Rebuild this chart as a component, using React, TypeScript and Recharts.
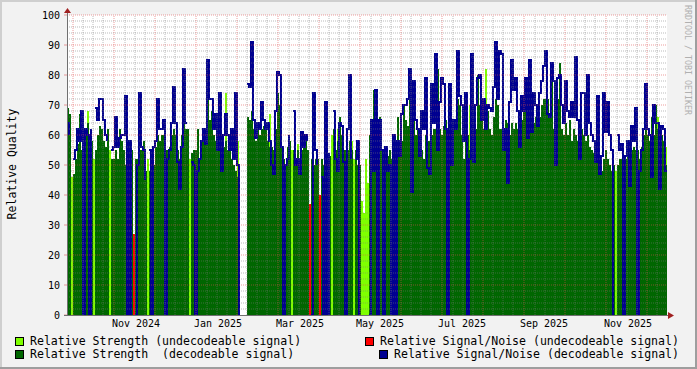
import React from 'react';
import { ComposedChart, Area, Line, XAxis, YAxis, ReferenceLine, CartesianGrid } from 'recharts';

// Relative Strength (decodeable signal), one value per time slot (null = no data)
const strength: (number | null)[] = [
  69, 67, 0, 47, 52, 57, 67, 55, 58, 60,
  64, 60, 58, 0, 55, 60, 63, 62, 58, 56,
  62, 0, 52, 52, 55, 52, 62, 58, 55, 50,
  55, 57, 55, 0, 52, 52, 55, 55, 58, 48,
  0, 48, 50, 50, 56, 60, 58, 60, 60, 55,
  55, 56, 60, 62, 60, 55, 52, 60, 72, 62,
  62, 0, 54, 55, 55, 62, 52, 58, 60, 58,
  74, 65, 68, 60, 58, 56, 60, 55, 56, 58,
  55, 55, 52, 50, 48, 46, 46, null, null, null,
  66, 65, 68, 62, 58, 62, 60, 62, 63, 62,
  58, 56, 56, 55, 62, 74, 70, 56, 52, 50,
  56, 58, 0, 55, 52, 55, 52, 55, 56, 60,
  55, 0, 52, 50, 52, 52, 0, 52, 50, 52,
  52, 53, 0, 62, 55, 58, 66, 60, 55, 55,
  55, 58, 55, 0, 55, 50, 50, 0, 0, 0,
  0, 60, 64, 75, 52, 52, 66, 55, 55, 53,
  53, 55, 52, 52, 55, 66, 55, 58, 70, 65,
  63, 80, 65, 76, 60, 62, 58, 55, 52, 60,
  58, 58, 60, 62, 62, 82, 62, 60, 63, 65,
  62, 62, 63, 63, 62, 72, 70, 60, 52, 62,
  60, 55, 60, 55, 62, 80, 70, 65, 62, 66,
  68, 62, 60, 66, 72, 70, 62, 62, 58, 65,
  64, 60, 64, 62, 64, 62, 60, 65, 70, 72,
  66, 68, 65, 64, 66, 64, 66, 70, 72, 72,
  72, 66, 80, 62, 60, 72, 84, 62, 60, 64,
  60, 65, 58, 62, 60, 58, 56, 62, 60, 58,
  60, 56, 55, 54, 52, 55, 52, 48, 52, 55,
  52, 50, 48, 50, 0, 50, 52, 52, 52, 52,
  55, 50, 55, 56, 55, 55, 52, 56, 60, 62,
  60, 58, 66, 60, 70, 62, 55, 60, 58, 50,
];

// Relative Signal/Noise (decodeable signal)
const snr: (number | null)[] = [
  64, 60, null, 52, 55, 62, 58, 68, 0, 62,
  60, 0, 62, null, 69, 65, 72, 72, 65, 60,
  58, null, 55, 56, 66, 56, 59, 60, 60, 73,
  0, 58, 0, null, 0, 50, 74, 56, 55, 45,
  null, 55, 0, 56, 58, 72, 62, 62, 65, 0,
  52, 55, 64, 76, 64, 51, 42, 56, 82, 64,
  64, null, 51, 50, 0, 48, 52, 58, 62, 57,
  85, 72, 72, 62, 67, 55, 74, 48, 60, 67,
  60, 55, 62, 52, 74, 50, 0, null, null, null,
  77, 76, 91, 65, 59, 64, 62, 71, 65, 62,
  64, 58, 50, 47, 68, 81, 80, 56, 0, 50,
  52, 60, null, 68, 50, 52, 47, 61, 56, 60,
  58, null, 0, 74, 55, 50, null, 46, 0, 71,
  0, 54, null, 68, 52, 48, 64, 63, 51, 0,
  62, 80, 52, null, 52, 58, 0, null, null, null,
  null, 0, 65, 48, 75, 0, 65, 55, 0, 56,
  48, 50, 0, 60, 0, 58, 53, 67, 70, 70,
  72, 82, 41, 78, 65, 62, 53, 68, 62, 79,
  49, 47, 77, 64, 87, 55, 71, 79, 77, 62,
  0, 77, 50, 65, 62, 88, 73, 70, 58, 74,
  0, 52, 87, 51, 70, 79, 80, 65, 72, 62,
  70, 69, 68, 76, 91, 72, 88, 87, 55, 62,
  44, 71, 85, 75, 79, 68, 56, 73, 68, 79,
  59, 85, 61, 74, 70, 63, 74, 78, 83, 88,
  67, 66, 84, 78, 50, 79, 80, 70, 64, 78,
  68, 66, 71, 66, 86, 65, 52, 74, 74, 60,
  80, 64, 60, 58, 51, 73, 47, 53, 74, 61,
  71, 60, 55, 0, null, 60, 55, 57, 0, 53,
  58, 43, 63, 58, 69, 0, 48, 55, 62, 77,
  62, 60, 46, 70, 64, 64, 42, 63, 62, 48,
];

// Relative Strength (undecodeable signal): [slot, value]
const strengthUndecodeable: [number, number][] = [
  [2, 46], [10, 68], [13, 52], [21, 55], [40, 52], [61, 52], [79, 74], [85, 58],
  [99, 64], [101, 67], [112, 55], [115, 57], [132, 60], [135, 62], [142, 58],
  [143, 52], [147, 38], [148, 34], [149, 52], [150, 44], [201, 70], [209, 82],
  [274, 48], [295, 66], [299, 56],
];

// Relative Signal/Noise (undecodeable signal): [slot, value]
const snrUndecodeable: [number, number][] = [[33, 27], [121, 37], [126, 40]];

const monthLabels = ['Nov 2024', 'Jan 2025', 'Mar 2025', 'May 2025', 'Jul 2025', 'Sep 2025', 'Nov 2025'];
const monthLabelSlots = [34.5, 75.5, 116.5, 156.5, 197.5, 238.5, 280.5];
const monthGridSlots = [3, 23.5, 44, 64.5, 85, 105.5, 126, 146.5, 167, 187.5, 208, 228.5, 249, 269.5, 290];
const yTicks = [0, 10, 20, 30, 40, 50, 60, 70, 80, 90, 100];

const N = strength.length;
const lgMap = new Map(strengthUndecodeable);
const redMap = new Map(snrUndecodeable);
const data = Array.from({ length: N + 1 }, (_, i) => {
  const k = Math.min(i, N - 1);
  return {
    i,
    strength: strength[k],
    snr: snr[k],
    strengthU: i < N ? lgMap.get(i) ?? 0 : 0,
    snrU: i < N ? redMap.get(i) ?? 0 : 0,
  };
});

const minorY: number[] = [];
for (let v = 2; v < 100; v += 2) if (v % 10 !== 0) minorY.push(v);
const majorY = [10, 20, 30, 40, 50, 60, 70, 80, 90, 100];
const weekStep = (monthGridSlots[1] - monthGridSlots[0]) / 4;
const minorX: number[] = [];
for (let k = 0; monthGridSlots[0] + k * weekStep < N; k++) if (k % 4 !== 0) minorX.push(Math.round(monthGridSlots[0] + k * weekStep));

const MINOR = 'rgba(120,120,120,0.5)';
const MAJOR = 'rgba(222,79,79,0.55)';
const MONO = '"DejaVu Sans Mono", monospace';

export default function App() {
  return (
    <div style={{ position: 'absolute', left: 0, top: 0, width: 697, height: 369, background: '#f2f2f2' }}>
      <ComposedChart width={697} height={369} data={data} margin={{ top: 15, right: 30, bottom: 34, left: 7 }}>
        <CartesianGrid horizontal={false} vertical={false} fill="#ffffff" />
        <XAxis
          dataKey="i"
          type="number"
          domain={[0, N]}
          ticks={monthLabelSlots}
          interval={0}
          tickFormatter={(v: number) => monthLabels[monthLabelSlots.indexOf(v)] ?? ''}
          axisLine={false}
          tickLine={false}
          tickSize={0}
          tickMargin={5}
          height={20}
          tick={{ fontFamily: MONO, fontSize: 10, fill: '#000' }}
          allowDataOverflow
        />
        <YAxis
          type="number"
          domain={[0, 100]}
          ticks={yTicks}
          interval={0}
          width={60}
          axisLine={false}
          tickLine={{ stroke: MAJOR }}
          tickSize={3}
          tickMargin={4}
          tick={{ fontFamily: MONO, fontSize: 10, fill: '#000' }}
          allowDataOverflow
        />
        <Area dataKey="strengthU" type="stepAfter" stroke="none" fill="#7fff00" fillOpacity={1} isAnimationActive={false} shapeRendering="crispEdges" />
        <Area dataKey="strength" type="stepAfter" stroke="none" fill="#006600" fillOpacity={1} isAnimationActive={false} shapeRendering="crispEdges" />
        <Area dataKey="snrU" type="stepAfter" stroke="none" fill="#ff0000" fillOpacity={1} isAnimationActive={false} shapeRendering="crispEdges" />
        <Line dataKey="snr" type="stepAfter" stroke="#000090" strokeWidth={2} dot={false} activeDot={false} isAnimationActive={false} shapeRendering="crispEdges" />
        {minorY.map((v) => (
          <ReferenceLine key={'my' + v} y={v} stroke={MINOR} strokeWidth={1} strokeDasharray="1 1" />
        ))}
        {minorX.map((v) => (
          <ReferenceLine key={'mx' + v} x={v} stroke={MINOR} strokeWidth={1} strokeDasharray="1 1" />
        ))}
        {majorY.map((v) => (
          <ReferenceLine key={'My' + v} y={v} stroke={MAJOR} strokeWidth={1} strokeDasharray="1 1" />
        ))}
        {monthGridSlots.map((v) => (
          <ReferenceLine key={'Mx' + v} x={v} stroke={MAJOR} strokeWidth={1} strokeDasharray="1 1" />
        ))}
      </ComposedChart>
      <svg width={697} height={369} style={{ position: 'absolute', left: 0, top: 0, pointerEvents: 'none' }}>
        <rect x={0} y={0} width={697} height={2} fill="#cfcfcf" />
        <rect x={0} y={0} width={2} height={369} fill="#cfcfcf" />
        <rect x={695} y={0} width={2} height={369} fill="#9e9e9e" />
        <rect x={0} y={367} width={697} height={2} fill="#9e9e9e" />
        <line x1={67.5} y1={315} x2={67.5} y2={12} stroke="#707070" strokeWidth={1} />
        <line x1={64} y1={315.5} x2={670} y2={315.5} stroke="#707070" strokeWidth={1} />
        <polygon points="64,13 71,13 67.5,8" fill="#a02020" />
        <polygon points="668,312 668,319 674,315.5" fill="#a02020" />
        <text x={12} y={164} transform="rotate(-90 12 164)" textAnchor="middle" dominantBaseline="central" fontFamily={MONO} fontSize={11.5} fill="#000">Relative Quality</text>
        <text x={687.5} y={60} transform="rotate(90 687.5 60)" textAnchor="middle" dominantBaseline="central" fontFamily={MONO} fontSize={8.3} fill="#b0b0b0">RRDTOOL / TOBI OETIKER</text>
        <rect x={15.5} y={337.5} width={8} height={8} fill="#7fff00" stroke="#000" />
        <text x={30} y={345} fontFamily={MONO} fontSize={11.55} fill="#000" xmlSpace="preserve">Relative Strength (undecodeable signal)</text>
        <rect x={15.5} y={350.5} width={8} height={8} fill="#006600" stroke="#000" />
        <text x={30} y={358} fontFamily={MONO} fontSize={11.55} fill="#000" xmlSpace="preserve">Relative Strength  (decodeable signal)</text>
        <rect x={365.5} y={337.5} width={8} height={8} fill="#ff0000" stroke="#000" />
        <text x={380} y={345} fontFamily={MONO} fontSize={11.55} fill="#000" xmlSpace="preserve">Relative Signal/Noise (undecodeable signal)</text>
        <rect x={379.5} y={350.5} width={8} height={8} fill="#000090" stroke="#000" />
        <text x={394} y={358} fontFamily={MONO} fontSize={11.55} fill="#000" xmlSpace="preserve">Relative Signal/Noise (decodeable signal)</text>
      </svg>
    </div>
  );
}
